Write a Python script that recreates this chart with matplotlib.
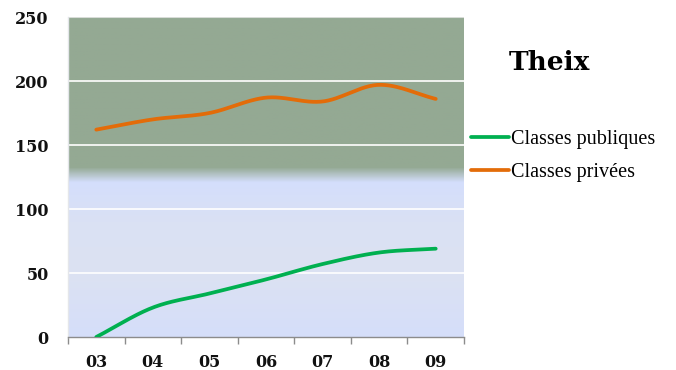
import numpy as np
import matplotlib.pyplot as plt
from matplotlib.colors import LinearSegmentedColormap

years = ["03", "04", "05", "06", "07", "08", "09"]
publiques = [0, 23, 34, 45, 57, 66, 69]
privees = [162, 170, 175, 187, 184, 197, 186]

green = "#00b050"
orange = "#e36c09"


def smooth(xs, ys, n=30):
    # Catmull-Rom style smoothing, like a spreadsheet "smoothed line"
    xs = np.asarray(xs, float)
    ys = np.asarray(ys, float)
    px = np.concatenate([[2 * xs[0] - xs[1]], xs, [2 * xs[-1] - xs[-2]]])
    py = np.concatenate([[2 * ys[0] - ys[1]], ys, [2 * ys[-1] - ys[-2]]])
    out_x, out_y = [], []
    t = np.linspace(0, 1, n)
    for i in range(1, len(px) - 2):
        p0, p1, p2, p3 = (np.array([px[j], py[j]]) for j in range(i - 1, i + 3))
        c1 = p1 + (p2 - p0) / 6
        c2 = p2 - (p3 - p1) / 6
        pts = ((1 - t) ** 3)[:, None] * p1 + (3 * (1 - t) ** 2 * t)[:, None] * c1 \
            + (3 * (1 - t) * t ** 2)[:, None] * c2 + (t ** 3)[:, None] * p2
        out_x.extend(pts[:, 0])
        out_y.extend(pts[:, 1])
    return np.array(out_x), np.array(out_y)


fig = plt.figure(figsize=(6.76, 3.70), dpi=100)
ax = fig.add_axes([68 / 676, 1 - 337 / 370, (464 - 68) / 676, (337 - 17) / 370])

x = np.arange(len(years))
ax.set_xlim(-0.5, len(years) - 0.5)
ax.set_ylim(0, 250)

# background: green band on top fading into pale blue
bg = LinearSegmentedColormap.from_list("bg", [
    (0.0, "#d5defa"),
    (0.2, "#dce2f2"),
    (0.36, "#dae1f4"),
    (0.484, "#d4defc"),
    (0.53, "#94a993"),
    (1.0, "#94a993"),
])
grad = np.linspace(0, 1, 500).reshape(-1, 1)
ax.imshow(grad, cmap=bg, aspect="auto", origin="lower",
          extent=[-0.5, len(years) - 0.5, 0, 250], zorder=0)

for yv in [50, 100, 150, 200]:
    ax.axhline(yv, color="white", lw=1.2, zorder=1)
ax.axhline(250, color="#d8dcd8", lw=1.5, zorder=1)

sx, sy = smooth(x, publiques)
ax.plot(sx, sy, color=green, lw=2.7, solid_capstyle="round", zorder=3,
        label="Classes publiques")
sx, sy = smooth(x, privees)
ax.plot(sx, sy, color=orange, lw=2.7, solid_capstyle="round", zorder=3,
        label="Classes privées")

for side in ["top", "right"]:
    ax.spines[side].set_visible(False)
ax.spines["left"].set_color("#e4e6ea")
ax.spines["left"].set_linewidth(1.0)
ax.spines["bottom"].set_color("#8c8c8c")
ax.spines["bottom"].set_linewidth(1.0)

ax.set_yticks([0, 50, 100, 150, 200, 250])
ax.tick_params(axis="y", length=0, pad=14)
ax.set_xticks(x)
ax.set_xticklabels(years)
ax.tick_params(axis="x", length=0, pad=12)
ax.set_xticks(np.arange(-0.5, len(years)), minor=True)
ax.tick_params(axis="x", which="minor", length=5, color="#8c8c8c", width=1.0)

for lab in ax.get_xticklabels() + ax.get_yticklabels():
    lab.set_fontfamily("DejaVu Serif")
    lab.set_fontweight("bold")
    lab.set_fontsize(11.5)
    lab.set_color("#111111")

fig.text(509 / 676, 1 - 62 / 370, "Theix", fontfamily="DejaVu Serif",
         fontweight="bold", fontsize=19, va="center", ha="left")

leg = fig.legend(loc="upper left", bbox_to_anchor=(463 / 676, 1 - 122 / 370),
                 frameon=False, handlelength=1.9, handletextpad=0.1,
                 labelspacing=0.7, borderaxespad=0,
                 prop={"family": "Liberation Serif", "size": 14.5})

fig.savefig("out.png", dpi=100)
